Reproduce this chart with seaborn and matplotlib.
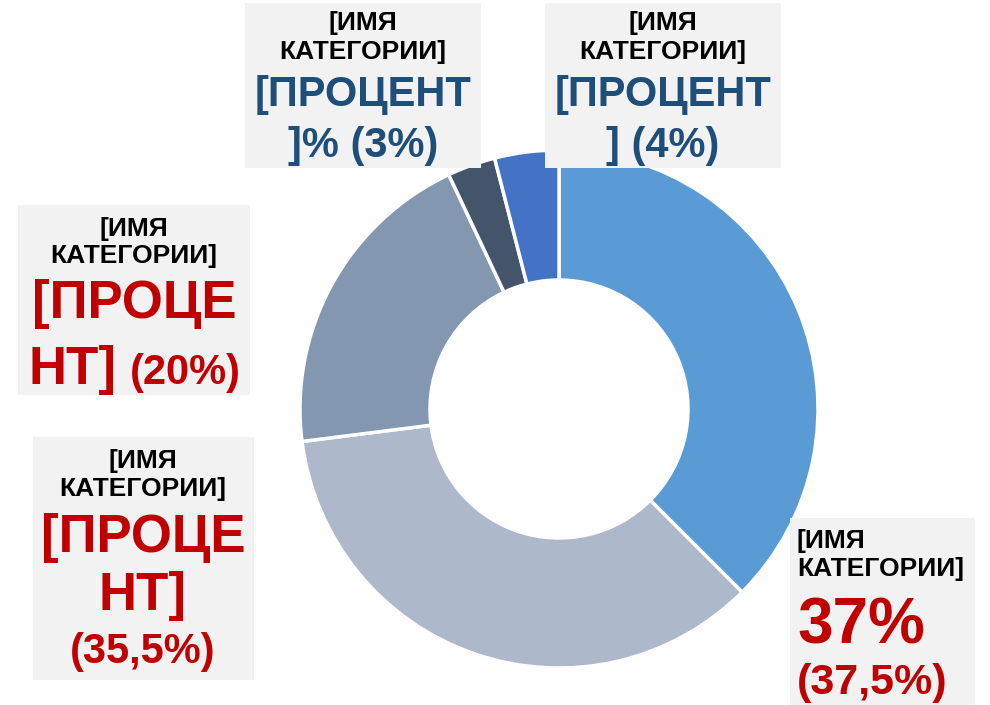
"""
Donut chart with category labels in grey boxes
"""
import matplotlib
matplotlib.use("Agg")
import matplotlib.pyplot as plt
import matplotlib.patches as mpatches
import seaborn as sns

# Data (clockwise from the top)
categories = ["[ИМЯ\nКАТЕГОРИИ]"] * 5
shares = [37.5, 35.5, 20, 3, 4]
share_texts = ["(37,5%)", "(35,5%)", "(20%)", "(3%)", "(4%)"]
slice_colors = ["#5B9BD5", "#ADB9CA", "#8497B0", "#44546A", "#4472C4"]

sns.set_theme(style="white")
plt.rcParams["font.family"] = ["Liberation Sans", "DejaVu Sans"]

W, H = 990, 705
fig = plt.figure(figsize=(W / 100, H / 100), dpi=100)
ax = fig.add_axes([0, 0, 1, 1])

ax.pie(shares, colors=sns.color_palette(slice_colors), startangle=90, counterclock=False,
       radius=259, center=(559, H - 409),
       wedgeprops=dict(width=130, edgecolor="white", linewidth=2.5))
ax.set_xlim(0, W)
ax.set_ylim(0, H)
ax.set_aspect("equal")
ax.axis("off")

RED = "#C00000"
NAVY = "#1F4E79"
BOX = "#F2F2F2"


def box(x0, y0, x1, y1):
    # box given in pixel coords measured from the top
    ax.add_patch(mpatches.Rectangle((x0, H - y1), x1 - x0, y1 - y0, facecolor=BOX,
                                    edgecolor="none", zorder=3))


def txt(x, y, s, size, color="black", ha="center", va="center"):
    ax.text(x, H - y, s, fontsize=size, color=color, ha=ha, va=va,
            fontweight="bold", zorder=4)


NAME = 19
name1, name2 = categories[0].split("\n")

# 3% label (top left)
box(245, 3, 481, 168)
txt(363, 23, name1, NAME)
txt(363, 52, name2, NAME)
txt(363, 95, "[ПРОЦЕНТ", 30, NAVY)
txt(363, 146, "]% " + share_texts[3], 30, NAVY)

# 4% label (top right)
box(545, 3, 781, 168)
txt(663, 23, name1, NAME)
txt(663, 52, name2, NAME)
txt(663, 95, "[ПРОЦЕНТ", 30, NAVY)
txt(663, 146, "] " + share_texts[4], 30, NAVY)

# 20% label (middle left)
box(18, 205, 250, 395)
txt(134, 229, name1, NAME)
txt(134, 256, name2, NAME)
txt(134, 304, "[ПРОЦЕ", 38, RED)
txt(28, 384, "НТ]", 38, RED, ha="left", va="baseline")
txt(130, 384, share_texts[2], 30, RED, ha="left", va="baseline")

# 35,5% label (lower left)
box(33, 437, 254, 680)
txt(143, 461, name1, NAME)
txt(143, 489, name2, NAME)
txt(143, 538, "[ПРОЦЕ", 38, RED)
txt(143, 596, "НТ]", 38, RED)
txt(143, 652, share_texts[1], 30, RED)

# 37,5% label (bottom right)
box(790, 518, 975, 705)
txt(797, 541, name1, NAME, ha="left")
txt(797, 569, name2, NAME, ha="left")
txt(797, 626, "37%", 46, RED, ha="left")
txt(797, 683, share_texts[0], 31, RED, ha="left")

fig.savefig("out.png", dpi=100)
